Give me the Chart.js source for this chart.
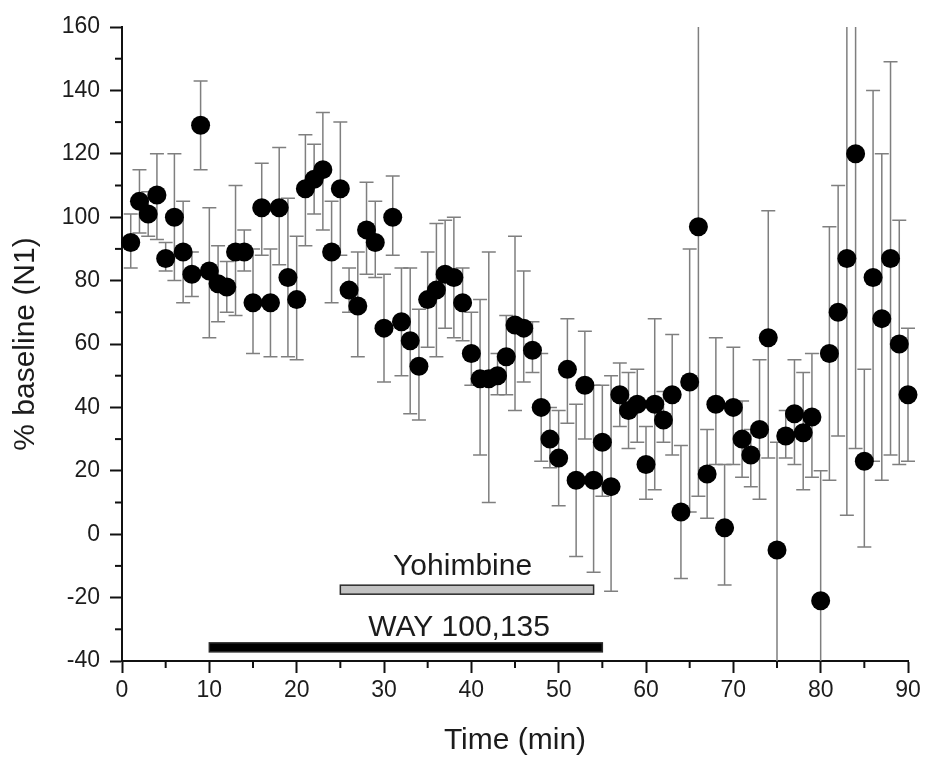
<!DOCTYPE html>
<html>
<head>
<meta charset="utf-8">
<script src="https://cdn.jsdelivr.net/npm/chart.js@4.4.1/dist/chart.umd.min.js"></script>
<style>
  html, body { margin: 0; padding: 0; background: #fff; }
  #wrap { width: 926px; height: 759px; }
</style>
</head>
<body>
<div id="wrap"><canvas id="baselineChart"></canvas></div>
<script>
// minutes 1..90
const minutes = [
  1, 2, 3, 4, 5, 6, 7, 8, 9, 10, 11, 12, 13, 14, 15, 16, 17, 18, 19, 20,
  21, 22, 23, 24, 25, 26, 27, 28, 29, 30, 31, 32, 33, 34, 35, 36, 37, 38, 39, 40,
  41, 42, 43, 44, 45, 46, 47, 48, 49, 50, 51, 52, 53, 54, 55, 56, 57, 58, 59, 60,
  61, 62, 63, 64, 65, 66, 67, 68, 69, 70, 71, 72, 73, 74, 75, 76, 77, 78, 79, 80,
  81, 82, 83, 84, 85, 86, 87, 88, 89, 90
];

// % baseline (N1)
const pctBaseline = [
  92, 105, 101, 107, 87, 100, 89, 82, 129, 83, 79, 78, 89, 89, 73, 103, 73, 103, 81, 74,
  109, 112, 115, 89, 109, 77, 72, 96, 92, 65, 100, 67, 61, 53, 74, 77, 82, 81, 73, 57,
  49, 49, 50, 56, 66, 65, 58, 40, 30, 24, 52, 17, 47, 17, 29, 15, 44, 39, 41, 22,
  41, 36, 44, 7, 48, 97, 19, 41, 2, 40, 30, 25, 33, 62, -5, 31, 38, 32, 37, -21,
  57, 70, 87, 120, 23, 81, 68, 87, 60, 44
];

// error bar ends
const errLow = [
  84, 95, 94, 93, 83, 80, 73, 75, 115, 62, 67, 70, 69, 83, 57, 88, 56, 85, 56, 55,
  91, 101, 96, 73, 88, 70, 56, 82, 81, 48, 88, 50, 38, 36, 59, 56, 65, 62, 61, 47,
  25, 10, 44, 44, 39, 48, 51, 23, 21, 9, 35, -7, 30, -12, 12, -18, 34, 27, 29, 11,
  14, 29, 25, -14, 7, 12, 5, 22, -16, 22, 18, 15, 11, 24, -60, 24, 22, 14, 18, -70,
  17, 31, 6, 27, -4, 23, 17, 25, 22, 23
];
const errHigh = [
  101, 115, 108, 120, 92, 120, 105, 89, 143, 103, 91, 86, 110, 96, 90, 117, 90, 122, 106, 94,
  126, 123, 133, 105, 130, 84, 89, 111, 105, 82, 113, 84, 84, 71, 89, 98, 99, 100, 84, 70,
  74, 89, 57, 69, 94, 83, 67, 57, 40, 39, 68, 41, 64, 47, 47, 50, 54, 51, 52, 34,
  68, 45, 63, 28, 90, 190, 33, 62, 22, 59, 42, 33, 55, 102, 29, 39, 55, 51, 57, 20,
  97, 110, 185, 200, 52, 140, 120, 149, 99, 65
];

// treatment periods
const treatmentNames = ['Yohimbine', 'WAY 100,135'];
const treatmentStart = [25, 10];
const treatmentEnd = [54, 55];

const points = minutes.map((t, i) => ({ x: t, y: pctBaseline[i] }));

const TEXT = '#1c1c1c';
const FONT = 'Arial, "Liberation Sans", Helvetica, sans-serif';

// vertical error bars with caps, behind the markers
const errorBars = {
  id: 'errorBars',
  beforeDatasetsDraw(chart) {
    const { ctx, chartArea, scales: { x, y } } = chart;
    ctx.save();
    ctx.beginPath();
    ctx.rect(chartArea.left, chartArea.top, chartArea.right - chartArea.left + 12, chartArea.bottom - chartArea.top);
    ctx.clip();
    ctx.strokeStyle = '#7f7f7f';
    ctx.lineWidth = 1.5;
    minutes.forEach((t, i) => {
      const px = x.getPixelForValue(t);
      const yl = y.getPixelForValue(errLow[i]);
      const yh = y.getPixelForValue(errHigh[i]);
      ctx.beginPath();
      ctx.moveTo(px, yl);
      ctx.lineTo(px, yh);
      ctx.moveTo(px - 7, yl);
      ctx.lineTo(px + 7, yl);
      ctx.moveTo(px - 7, yh);
      ctx.lineTo(px + 7, yh);
      ctx.stroke();
    });
    ctx.restore();
  }
};

// minor tick marks halfway between the labelled ones
const minorTicks = {
  id: 'minorTicks',
  afterDraw(chart) {
    const { ctx, chartArea, scales: { x, y } } = chart;
    ctx.save();
    ctx.strokeStyle = '#111';
    ctx.lineWidth = 2;
    for (let v = 5; v < 90; v += 10) {
      const px = x.getPixelForValue(v);
      ctx.beginPath();
      ctx.moveTo(px, chartArea.bottom);
      ctx.lineTo(px, chartArea.bottom + 7);
      ctx.stroke();
    }
    for (let v = -30; v < 160; v += 20) {
      const py = y.getPixelForValue(v);
      ctx.beginPath();
      ctx.moveTo(chartArea.left, py);
      ctx.lineTo(chartArea.left - 7, py);
      ctx.stroke();
    }
    ctx.restore();
  }
};

// drug application bars with their labels
const treatmentBars = {
  id: 'treatmentBars',
  afterDatasetsDraw(chart, args, opts) {
    const { ctx, scales: { x, y } } = chart;
    ctx.save();
    treatmentNames.forEach((name, i) => {
      const x0 = x.getPixelForValue(treatmentStart[i]);
      const x1 = x.getPixelForValue(treatmentEnd[i]);
      const yc = y.getPixelForValue(opts.level[i]);
      const h = opts.height[i];
      ctx.fillStyle = opts.fill[i];
      ctx.fillRect(x0, yc - h / 2, x1 - x0, h);
      ctx.strokeStyle = '#2a2a2a';
      ctx.lineWidth = 1.5;
      ctx.strokeRect(x0, yc - h / 2, x1 - x0, h);
      ctx.fillStyle = TEXT;
      ctx.font = '30px ' + FONT;
      ctx.textAlign = 'center';
      ctx.textBaseline = 'alphabetic';
      ctx.fillText(name, x.getPixelForValue(opts.labelAt[i]), yc - h / 2 - opts.gap[i]);
    });
    ctx.restore();
  }
};

const ctx = document.getElementById('baselineChart').getContext('2d');

new Chart(ctx, {
  type: 'scatter',
  data: {
    datasets: [{
      label: '% baseline (N1)',
      data: points,
      backgroundColor: '#000',
      borderWidth: 0,
      pointRadius: 9.5,
      pointHoverRadius: 9.5,
      clip: false
    }]
  },
  options: {
    responsive: true,
    maintainAspectRatio: false,
    animation: false,
    layout: { padding: { top: 27, right: 18, left: 0, bottom: 0 } },
    plugins: {
      legend: { display: false },
      tooltip: { enabled: false },
      treatmentBars: {
        level: [-17.5, -35.7],
        height: [9, 9],
        fill: ['#c2c2c2', '#000'],
        labelAt: [39.0, 38.6],
        gap: [10, 7]
      }
    },
    scales: {
      x: {
        type: 'linear',
        min: 0,
        max: 90,
        afterFit(scale) { scale.height = 98; },
        border: { display: true, color: '#111', width: 2 },
        grid: { display: true, drawOnChartArea: false, drawTicks: true, tickLength: 12, tickWidth: 2, tickColor: '#111' },
        ticks: { stepSize: 10, padding: 4, color: TEXT, font: { family: FONT, size: 23 } },
        title: { display: true, text: 'Time (min)', color: TEXT, padding: { top: 0, bottom: 0 }, font: { family: FONT, size: 30 } }
      },
      y: {
        type: 'linear',
        min: -40,
        max: 160,
        afterFit(scale) { scale.width = 122; },
        border: { display: true, color: '#111', width: 2 },
        grid: { display: true, drawOnChartArea: false, drawTicks: true, tickLength: 12, tickWidth: 2, tickColor: '#111' },
        ticks: { stepSize: 20, padding: 10, color: TEXT, font: { family: FONT, size: 23 } },
        title: { display: true, text: '% baseline (N1)', color: TEXT, padding: { top: 8, bottom: 0 }, font: { family: FONT, size: 30 } }
      }
    }
  },
  plugins: [errorBars, minorTicks, treatmentBars]
});
</script>
</body>
</html>
